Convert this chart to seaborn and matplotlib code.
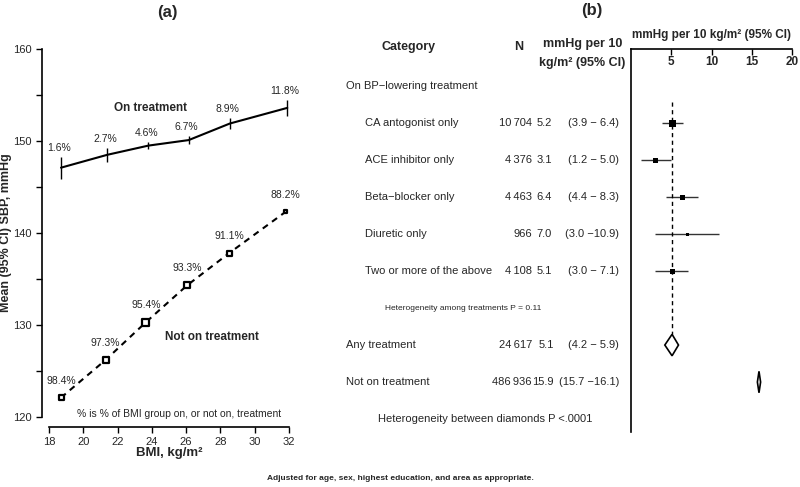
import seaborn as sns
import matplotlib.pyplot as plt
import pandas as pd
from matplotlib.transforms import blended_transform_factory

# panel (a): mean SBP by BMI group
bmi_on = [18.7, 21.4, 23.8, 26.15, 28.55, 31.9]
sbp_on = [147.1, 148.5, 149.5, 150.1, 151.9, 153.6]
ci_on = [1.2, 0.75, 0.4, 0.45, 0.65, 0.9]
pct_on = ["1.6%", "2.7%", "4.6%", "6.7%", "8.9%", "11.8%"]

bmi_off = [18.7, 21.3, 23.65, 26.05, 28.5, 31.8]
sbp_off = [122.1, 126.2, 130.3, 134.3, 137.8, 142.3]
wt_off = [5, 6, 7, 6, 5, 3]
pct_off = ["98.4%", "97.3%", "95.4%", "93.3%", "91.1%", "88.2%"]

yticks = [120, 125, 130, 135, 140, 145, 150, 155, 160]
ytick_labels = ["120", "", "130", "", "140", "", "150", "", "160"]
xticks = [18, 20, 22, 24, 26, 28, 30, 32]

# panel (b): forest plot
categories = ["CA antogonist only", "ACE inhibitor only", "Beta\u2212blocker only",
              "Diuretic only", "Two or more of the above"]
n_trt = ["10\u2009704", "4\u2009376", "4\u2009463", "966", "4\u2009108"]
est_trt = [5.2, 3.1, 6.4, 7.0, 5.1]
lo_trt = [3.9, 1.2, 4.4, 3.0, 3.0]
hi_trt = [6.4, 5.0, 8.3, 10.9, 7.1]
wt_trt = [7, 5, 5, 3, 5]

summary = ["Any treatment", "Not on treatment"]
n_sum = ["24\u2009617", "486\u2009936"]
est_sum = [5.1, 15.9]
lo_sum = [4.2, 15.7]
hi_sum = [5.9, 16.1]

sns.set_style("ticks")
plt.rcParams['font.family'] = ['Liberation Sans', 'DejaVu Sans']

W, H = 800, 487
fig = plt.figure(figsize=(8, 4.87), dpi=100)


def fx(x):
    return x / W


def fy(y):
    return 1 - y / H


# ---------- panel (a)
ax = fig.add_axes([fx(49), fy(417), fx(240), 368 / H])
ax.set_xlim(18, 32)
ax.set_ylim(120, 160)

sns.lineplot(x=bmi_on, y=sbp_on, color="black", lw=1.5, ax=ax)
ax.errorbar(bmi_on, sbp_on, yerr=ci_on, fmt="none", ecolor="black", elinewidth=1)

sns.lineplot(x=bmi_off, y=sbp_off, color="black", lw=1.5, ax=ax)
ax.lines[-1].set_dashes([3, 2.5])
df_off = pd.DataFrame({"bmi": bmi_off, "sbp": sbp_off,
                       "s": [(w * 0.72) ** 2 for w in wt_off]})
sns.scatterplot(data=df_off, x="bmi", y="sbp", marker="s", s=df_off["s"],
                color="white", edgecolor="black", linewidth=1.6, ax=ax, zorder=3)

for x, y, c, t in zip(bmi_on, sbp_on, ci_on, pct_on):
    ax.annotate(t, (x, y + c), xytext=(-1.5, 2.5), textcoords="offset points",
                ha="center", va="bottom", fontsize=7.5)
for x, y, t in zip(bmi_off, sbp_off, pct_off):
    ax.annotate(t, (x, y), xytext=(0, 12.2), textcoords="offset points",
                ha="center", va="center", fontsize=7.5)

ax.text(23.95, 153.6, "On treatment", ha="center", va="center",
        fontsize=8.5, fontweight="bold")
ax.text(27.5, 128.7, "Not on treatment", ha="center", va="center",
        fontsize=8.5, fontweight="bold")
ax.text(25.6, 120.3, "% is % of BMI group on, or not on, treatment",
        ha="center", va="center", fontsize=7.5)

ax.set_yticks(yticks)
ax.set_yticklabels(ytick_labels)
ax.set_xticks(xticks)
ax.set_xticklabels([str(t) for t in xticks])
for lab in ax.get_xticklabels() + ax.get_yticklabels():
    lab.set_fontweight("bold")
ax.tick_params(axis="both", labelsize=8, length=4, width=1, color="black")
sns.despine(ax=ax)
ax.spines["left"].set_position(("outward", 5))
ax.spines["bottom"].set_position(("outward", 7.2))
ax.spines["left"].set_bounds(120, 160)
ax.spines["bottom"].set_bounds(18, 32)
for s in ("left", "bottom"):
    ax.spines[s].set_linewidth(1.2)
    ax.spines[s].set_color("black")

ax.set_xlabel("BMI, kg/m²", fontsize=9.5, fontweight="bold")
ax.xaxis.set_label_coords(0.5, -0.082)
ax.set_ylabel("Mean (95% CI) SBP, mmHg", fontsize=9, fontweight="bold")
ax.yaxis.set_label_coords(-0.155, 0.5)

# ---------- panel (b)
fa = fig.add_axes([fx(631), fy(432), fx(161), (432 - 49) / H])
rows_trt = list(range(1, 6))
rows_sum = [7, 8]
fa.set_xlim(0, 20)
fa.set_ylim(9.35, -1.0)

fa.hlines(rows_trt, lo_trt, hi_trt, color="#333333", lw=1)
df_trt = pd.DataFrame({"est": est_trt, "row": rows_trt,
                       "s": [(w * 0.72) ** 2 for w in wt_trt]})
sns.scatterplot(data=df_trt, x="est", y="row", marker="s", s=df_trt["s"],
                color="black", edgecolor="black", linewidth=0, ax=fa, zorder=3)
fa.vlines(est_sum[0], 0.43, 6.7, colors="black", lw=1, linestyles=(0, (3, 2.5)))
h = 0.29
for r, e, lo, hi in zip(rows_sum, est_sum, lo_sum, hi_sum):
    fa.fill([lo, e, hi, e], [r, r - h, r, r + h], facecolor="white",
            edgecolor="black", lw=1.2, zorder=3)

fa.set_xticks([5, 10, 15, 20])
fa.xaxis.tick_top()
fa.tick_params(axis="x", direction="in", length=4, width=1, pad=-14,
               labelsize=8.5, color="black")
for lab in fa.get_xticklabels():
    lab.set_fontweight("bold")
fa.set_yticks([])
fa.set_xlabel("")
fa.set_ylabel("")
fa.spines["right"].set_visible(False)
fa.spines["bottom"].set_visible(False)
for s in ("left", "top"):
    fa.spines[s].set_linewidth(1.2)
    fa.spines[s].set_color("black")
fa.set_title("mmHg per 10 kg/m² (95% CI)", fontsize=8.5, fontweight="bold", pad=8)

# table text
tr = blended_transform_factory(fig.transFigure, fa.transData)
fs = 8
hs = 9
fig.text(fx(409), fy(47), "Category", ha="center", va="center", fontsize=hs, fontweight="bold")
fig.text(fx(519), fy(47), "N", ha="center", va="center", fontsize=hs, fontweight="bold")
fig.text(fx(583), fy(44), "mmHg per 10", ha="center", va="center", fontsize=hs, fontweight="bold")
fig.text(fx(582), fy(63), "kg/m² (95% CI)", ha="center", va="center", fontsize=hs, fontweight="bold")

fig.text(fx(346), 0, "On BP\u2212lowering treatment", transform=tr, ha="left", va="center", fontsize=fs)
for r, c, n, e, lo, hi in zip(rows_trt, categories, n_trt, est_trt, lo_trt, hi_trt):
    fig.text(fx(365), r, c, transform=tr, ha="left", va="center", fontsize=fs)
    fig.text(fx(532), r, n, transform=tr, ha="right", va="center", fontsize=fs)
    fig.text(fx(552), r, f"{e:.1f}", transform=tr, ha="right", va="center", fontsize=fs)
    fig.text(fx(619), r, f"({lo:.1f} \u2212{hi:4.1f})", transform=tr,
             ha="right", va="center", fontsize=fs)
fig.text(fx(385), 6, "Heterogeneity among treatments P = 0.11", transform=tr,
         ha="left", va="center", fontsize=6)
for r, c, n, e, lo, hi in zip(rows_sum, summary, n_sum, est_sum, lo_sum, hi_sum):
    fig.text(fx(346), r, c, transform=tr, ha="left", va="center", fontsize=fs)
    fig.text(fx(532), r, n, transform=tr, ha="right", va="center", fontsize=fs)
    fig.text(fx(554), r, f"{e:.1f}", transform=tr, ha="right", va="center", fontsize=fs)
    fig.text(fx(619), r, f"({lo:.1f} \u2212{hi:4.1f})", transform=tr,
             ha="right", va="center", fontsize=fs)
fig.text(fx(485), 9, "Heterogeneity between diamonds P <.0001", transform=tr,
         ha="center", va="center", fontsize=8)

fig.text(fx(167), fy(12), "(a)", ha="center", va="center", fontsize=12, fontweight="bold")
fig.text(fx(592), fy(10), "(b)", ha="center", va="center", fontsize=12, fontweight="bold")
fig.text(fx(400), fy(478), "Adjusted for age, sex, highest education, and area as appropriate.",
         ha="center", va="center", fontsize=6, fontweight="bold")

fig.savefig("out.png", dpi=100)
